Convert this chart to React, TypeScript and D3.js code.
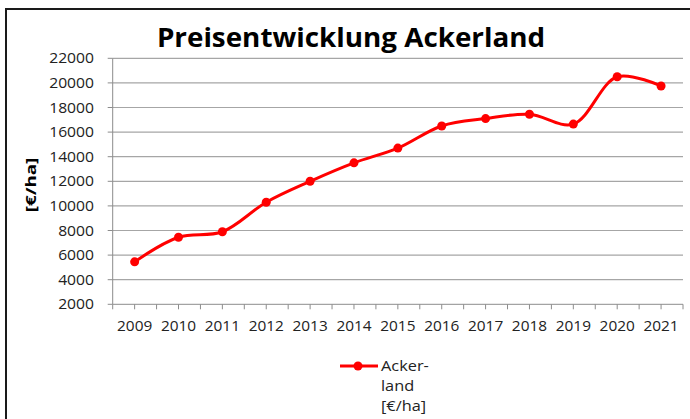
import React from "react";
import * as d3 from "d3";

const years = ["2009","2010","2011","2012","2013","2014","2015","2016","2017","2018","2019","2020","2021"];
const prices = [5450, 7450, 7900, 10300, 12000, 13500, 14700, 16500, 17100, 17450, 16650, 20500, 19750];
const yTicks = [2000,4000,6000,8000,10000,12000,14000,16000,18000,20000,22000];
const title = "Preisentwicklung Ackerland";
const yTitle = "[€/ha]";
const legendLines = ["Acker-", "land", "[€/ha]"];

const font = "'Open Sans', 'Noto Sans', sans-serif";

function T(props: { x: number; y: number; sx?: number; rot?: number; anchor?: string; size: number; bold?: boolean; fill?: string; dy?: string; children: React.ReactNode }) {
  const { x, y, sx = 1, rot = 0, anchor = "start", size, bold, fill = "#222", dy, children } = props;
  return (
    <text
      transform={`translate(${x},${y}) rotate(${rot}) scale(${sx},1)`}
      textAnchor={anchor as any}
      dy={dy}
      fontFamily={font}
      fontSize={size}
      fontWeight={bold ? "bold" : "normal"}
      fill={fill}
    >
      {children}
    </text>
  );
}

export default function App() {
  const W = 690, H = 419;
  const left = 112.7, right = 683, top = 58.3, bottom = 304.3;
  const x = d3.scaleBand<string>().domain(years).range([left, right]).padding(0);
  const y = d3.scaleLinear().domain([2000, 22000]).range([bottom, top]);
  const cx = (d: string) => (x(d) as number) + x.bandwidth() / 2;
  const line = d3.line<number>()
    .x((_, i) => cx(years[i]))
    .y((d) => y(d))
    .curve(d3.curveCatmullRom.alpha(0.5));
  const half = x.bandwidth() / 2;
  const minorTicks = d3.range(0, years.length * 2 + 1).map((i) => left + i * half);
  return (
    <svg width={W} height={H} style={{ position: "absolute", left: 0, top: 0, background: "#fff" }}>
      <rect x={6} y={9} width={720} height={440} fill="#fff" stroke="#1a1a1a" strokeWidth={2} />
      <T x={351} y={47} sx={1.07} anchor="middle" size={26} bold fill="#000">{title}</T>
      {yTicks.map((t) => (
        <g key={t}>
          {t !== 2000 && <line x1={left} x2={right} y1={y(t)} y2={y(t)} stroke="#a6a6a6" strokeWidth={1.2} />}
          <line x1={left - 5} x2={left} y1={y(t)} y2={y(t)} stroke="#8c8c8c" strokeWidth={1} />
          <T x={94} y={y(t)} dy="0.36em" sx={1.12} anchor="end" size={14}>{t}</T>
        </g>
      ))}
      <line x1={left} x2={left} y1={top} y2={bottom} stroke="#8c8c8c" strokeWidth={1} />
      <line x1={left} x2={right} y1={bottom} y2={bottom} stroke="#8c8c8c" strokeWidth={1} />
      {minorTicks.map((t, i) => (
        <line key={i} x1={t} x2={t} y1={bottom} y2={bottom + 5} stroke="#8c8c8c" strokeWidth={1} />
      ))}
      {years.map((yr) => (
        <T key={yr} x={cx(yr)} y={326} dy="0.36em" sx={1.1} anchor="middle" size={14}>{yr}</T>
      ))}
      <T x={36} y={185} rot={-90} sx={1.25} anchor="middle" size={15} bold fill="#000">{yTitle}</T>
      <path d={line(prices) ?? ""} fill="none" stroke="#ff0000" strokeWidth={3} strokeLinejoin="round" />
      {prices.map((p, i) => (
        <circle key={i} cx={cx(years[i])} cy={y(p)} r={4.5} fill="#ff0000" />
      ))}
      <line x1={340} x2={378} y1={366} y2={366} stroke="#ff0000" strokeWidth={3} />
      <circle cx={358} cy={366} r={4.5} fill="#ff0000" />
      {legendLines.map((l, i) => (
        <T key={i} x={381} y={366 + i * 20} dy="0.36em" sx={1.09} size={15}>{l}</T>
      ))}
    </svg>
  );
}
